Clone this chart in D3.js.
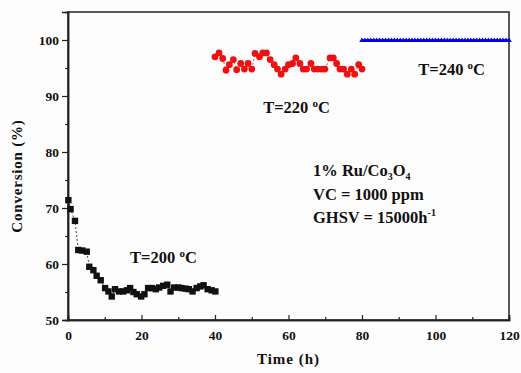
<!DOCTYPE html>
<html>
<head>
<meta charset="utf-8">
<script src="https://cdn.jsdelivr.net/npm/d3@7"></script>
<style>
  body { margin: 0; background: #fdfdfd; }
  svg { display: block; }
  text { font-family: "Liberation Serif", "Times New Roman", serif; font-weight: bold; fill: #111; }
</style>
</head>
<body>
<div class="plot"></div>
<script>
// T = 200 C
var timeA = [0.1, 0.7, 1.9, 2.8, 3.9, 5.1, 5.8, 6.9, 7.8, 8.9, 10.1, 11, 11.9, 12.8, 13.9, 15, 16, 16.9, 17.8, 18.7,
             19.9, 20.8, 21.8, 22.9, 23.9, 24.8, 25.9, 27, 27.9, 28.9, 30, 30.9, 32, 32.9, 33.9, 35, 36, 36.9, 38, 39.1, 40.1];
var convA = [71.4, 69.8, 67.7, 62.5, 62.4, 62.2, 59.5, 58.9, 57.9, 57.1, 55.7, 55.1, 54.2, 55.5, 55.1, 55.1, 55.3, 55.7, 55.0, 54.6,
             54.2, 54.6, 55.7, 55.7, 55.5, 55.8, 56.1, 56.3, 55.1, 55.8, 55.8, 55.7, 55.6, 55.5, 55.1, 55.7, 56.0, 56.2, 55.5, 55.3, 55.1];

// T = 220 C
var timeB = [40, 41.1, 42.1, 43, 43.9, 45, 45.9, 47, 48, 49, 50, 50.9, 52.1, 53, 54, 55, 56.1, 57, 58, 59.1,
             60, 61.1, 62, 63.1, 64, 64.9, 66.1, 67, 68, 69, 69.9, 71.3, 72.2, 73.1, 74, 75, 76, 77.1, 78, 79.1, 80];
var convB = [97.0, 97.7, 96.7, 94.6, 95.6, 96.5, 94.7, 95.8, 94.8, 95.8, 94.8, 97.6, 97.0, 97.7, 97.7, 96.5, 95.6, 94.8, 93.9, 94.8,
             95.6, 95.8, 96.8, 95.8, 94.8, 94.8, 95.8, 94.8, 94.8, 94.8, 94.8, 96.8, 96.8, 95.8, 94.8, 94.8, 93.9, 94.8, 93.9, 95.6, 94.8];

// T = 240 C
var timeC = [80, 80.8, 81.6, 82.4, 83.2, 84, 84.8, 85.6, 86.4, 87.2, 88, 88.8, 89.6, 90.4, 91.2, 92, 92.8, 93.6, 94.4, 95.2,
             96, 96.8, 97.6, 98.4, 99.2, 100, 100.8, 101.6, 102.4, 103.2, 104, 104.8, 105.6, 106.4, 107.2, 108, 108.8, 109.6, 110.4, 111.2,
             112, 112.8, 113.6, 114.4, 115.2, 116, 116.8, 117.6, 118.4, 119.2, 120];
var convC = [100, 100, 100, 100, 100, 100, 100, 100, 100, 100, 100, 100, 100, 100, 100, 100, 100, 100, 100, 100,
             100, 100, 100, 100, 100, 100, 100, 100, 100, 100, 100, 100, 100, 100, 100, 100, 100, 100, 100, 100,
             100, 100, 100, 100, 100, 100, 100, 100, 100, 100, 100];

var xTicks = [0, 20, 40, 60, 80, 100, 120];
var xMinor = [10, 30, 50, 70, 90, 110];
var yTicks = [50, 60, 70, 80, 90, 100];
var yMinor = [55, 65, 75, 85, 95];

var width = 521,
    height = 373,
    plotLeft = 68, plotRight = 509, plotTop = 12, plotBottom = 320;

var x = d3.scaleLinear().domain([0, 120]).range([plotLeft, plotRight]);
var y = d3.scaleLinear().domain([50, 105]).range([plotBottom, plotTop]);

var svg = d3.select(".plot").append("svg")
    .attr("width", width)
    .attr("height", height);

// frame
svg.append("rect")
    .attr("x", plotLeft).attr("y", plotTop)
    .attr("width", plotRight - plotLeft).attr("height", plotBottom - plotTop)
    .attr("fill", "none")
    .attr("stroke", "#222")
    .attr("stroke-width", 1.5);

// x axis: ticks point inward
var xAxis = svg.append("g")
    .attr("transform", "translate(0," + plotBottom + ")")
    .call(d3.axisBottom(x).tickValues(xTicks).tickSize(-5).tickPadding(10).tickFormat(d3.format("d")));
var xAxisMinor = svg.append("g")
    .attr("transform", "translate(0," + plotBottom + ")")
    .call(d3.axisBottom(x).tickValues(xMinor).tickSize(-3).tickFormat(""));

// y axis: ticks point outward
var yAxis = svg.append("g")
    .attr("transform", "translate(" + plotLeft + ",0)")
    .call(d3.axisLeft(y).tickValues(yTicks).tickSize(6).tickPadding(3).tickFormat(d3.format("d")));
var yAxisMinor = svg.append("g")
    .attr("transform", "translate(" + plotLeft + ",0)")
    .call(d3.axisLeft(y).tickValues(yMinor).tickSize(3).tickFormat(""));

[xAxis, xAxisMinor, yAxis, yAxisMinor].forEach(function(g) {
  g.select(".domain").attr("stroke", "#222").attr("stroke-width", 1.5);
  g.selectAll(".tick line").attr("stroke", "#222").attr("stroke-width", 1.2);
  g.selectAll(".tick text")
      .style("font-family", "'Liberation Serif', serif")
      .style("font-weight", "bold")
      .style("font-size", "13.5px")
      .attr("fill", "#111");
});

// axis titles
svg.append("text")
    .attr("x", (plotLeft + plotRight) / 2)
    .attr("y", 364)
    .attr("text-anchor", "middle")
    .style("font-size", "15px")
    .style("letter-spacing", "1px")
    .text("Time (h)");

svg.append("text")
    .attr("transform", "translate(22,176) rotate(-90)")
    .attr("text-anchor", "middle")
    .style("font-size", "15px")
    .style("letter-spacing", "0.8px")
    .text("Conversion (%)");

// series
var line = d3.line()
    .x(function(d) { return x(d[0]); })
    .y(function(d) { return y(d[1]); });

var dataA = d3.zip(timeA, convA),
    dataB = d3.zip(timeB, convB),
    dataC = d3.zip(timeC, convC);

svg.append("path")
    .datum(dataA)
    .attr("d", line)
    .attr("fill", "none")
    .attr("stroke", "#111")
    .attr("stroke-width", 0.8)
    .attr("stroke-dasharray", "2,2");

svg.selectAll(".sq")
    .data(dataA)
  .enter().append("rect")
    .attr("class", "sq")
    .attr("x", function(d) { return x(d[0]) - 3.2; })
    .attr("y", function(d) { return y(d[1]) - 3.2; })
    .attr("width", 6.4)
    .attr("height", 6.4)
    .attr("fill", "#111");

svg.append("path")
    .datum(dataB)
    .attr("d", line)
    .attr("fill", "none")
    .attr("stroke", "#e41a1a")
    .attr("stroke-width", 0.8)
    .attr("stroke-dasharray", "2,2");

svg.selectAll(".dot")
    .data(dataB)
  .enter().append("circle")
    .attr("class", "dot")
    .attr("cx", function(d) { return x(d[0]); })
    .attr("cy", function(d) { return y(d[1]); })
    .attr("r", 3.4)
    .attr("fill", "#ee1111");

svg.append("path")
    .datum(dataC)
    .attr("d", line)
    .attr("fill", "none")
    .attr("stroke", "#0000ee")
    .attr("stroke-width", 1.5);

svg.selectAll(".tri")
    .data(dataC)
  .enter().append("path")
    .attr("class", "tri")
    .attr("transform", function(d) { return "translate(" + x(d[0]) + "," + y(d[1]) + ")"; })
    .attr("d", "M-2.8,2L2.8,2L0,-2.6Z")
    .attr("fill", "#0000ee");

// annotations
function tempLabel(tx, ty, t) {
  var el = svg.append("text")
      .attr("x", tx)
      .attr("y", ty)
      .style("font-size", "16.5px");
  el.append("tspan").text("T=" + t + " ");
  el.append("tspan").attr("dy", -6).style("font-size", "11px").text("o");
  el.append("tspan").attr("dy", 6).text("C");
}
tempLabel(x(16.9), y(50) - 57, "200");
tempLabel(x(53.1), y(50) - 207, "220");
tempLabel(x(95.3), y(50) - 245, "240");

var note = svg.append("g").style("font-size", "16.5px");
var n1 = note.append("text").attr("x", 313).attr("y", 176);
n1.append("tspan").text("1% Ru/Co");
n1.append("tspan").attr("dy", 4).style("font-size", "10px").text("3");
n1.append("tspan").attr("dy", -4).text("O");
n1.append("tspan").attr("dy", 4).style("font-size", "10px").text("4");

note.append("text").attr("x", 313).attr("y", 200).text("VC = 1000 ppm");

var n3 = note.append("text").attr("x", 313).attr("y", 223);
n3.append("tspan").text("GHSV = 15000h");
n3.append("tspan").attr("dy", -7).style("font-size", "10px").text("-1");
</script>
</body>
</html>
